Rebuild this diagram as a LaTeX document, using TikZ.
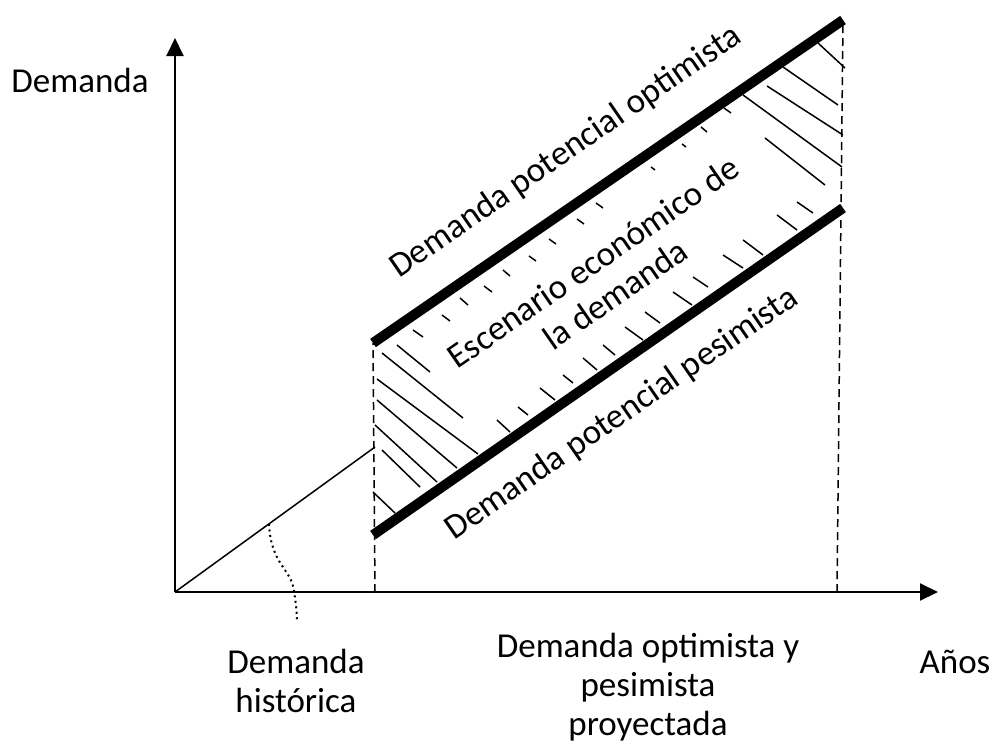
\documentclass[tikz,border=0pt]{standalone}
\usepackage{fontspec}
\setmainfont{Carlito}
\usetikzlibrary{arrows.meta}
\tikzset{
  axis/.style={line width=2pt, -{Triangle[length=18pt,width=17pt]}},
  bound/.style={line width=10pt},
  guide/.style={line width=1.5pt, dash pattern=on 8pt off 5pt},
  hatch/.style={line width=1.5pt},
  lbl/.style={font=\fontsize{35}{39}\selectfont, inner sep=0pt, align=center}
}
\begin{document}
\begin{tikzpicture}[x=1pt, y=-1pt]
\useasboundingbox (0,0) rectangle (1000,750);
\coordinate (O) at (175,592);
\coordinate (ytip) at (175,38);
\coordinate (xtip) at (938,592);
\coordinate (H) at (375,447);
\coordinate (U1) at (373,343);
\coordinate (U2) at (843,20);
\coordinate (L1) at (373,535);
\coordinate (L2) at (843,208);
\coordinate (A) at (375,592);
\coordinate (B) at (837,592);
\coordinate (S1) at (269,524);
\coordinate (S2) at (297,622);
\draw[axis] (O) -- (ytip);
\draw[axis] (O) -- (xtip);
\draw[line width=1.5pt] (O) -- (H);
\draw[guide] (A) -- (U1);
\draw[guide] (B) -- (U2);
\foreach \a/\b/\c/\d in {382/353/463/418, 397/345/430/372, 377/379/478/454, 377/400/457/468,
  375/425/437/482, 382/450/420/487, 373/492/395/513,
  413/330/423/337, 442/315/450/321, 460/298/468/305, 484/286/492/292, 503/270/510/276,
  529/256/536/261, 549/239/556/244, 577/219/584/224, 596/203/603/208, 651/167/655/170,
  682/144/686/147, 701/127/707/132, 724/108/731/113,
  497/420/510/432, 518/407/528/415, 540/388/555/400, 563/375/573/383, 583/358/597/370,
  603/345/615/355, 625/327/643/340, 645/312/660/323, 673/292/692/305, 693/277/708/287,
  723/255/743/268, 743/240/763/255, 777/215/797/230, 797/202/813/213,
  818/43/845/68, 783/67/838/105, 767/86/843/135, 743/95/842/167, 765/138/825/185}
  \draw[hatch] (\a,\b) -- (\c,\d);
\draw[bound] (U1) -- (U2);
\draw[bound] (L1) -- (L2);
\draw[line width=2pt, dash pattern=on 2pt off 3.5pt] (S1) .. controls (271,565) and (291,568) .. (294,591) .. controls (296,605) and (297,612) .. (S2);
\node[lbl, anchor=base] (ylab) at (80,92) {Demanda};
\node[lbl, anchor=base] (xlab) at (955,673) {Años};
\node[lbl, anchor=base] (hist) at (296,712) {Demanda\\histórica};
\node[lbl, anchor=base] (proj) at (648,735) {Demanda optimista y\\pesimista\\proyectada};
\node[lbl, rotate=34.6] (opt) at (566,152) {Demanda potencial optimista};
\node[lbl, rotate=34.6] (esc) at (604,278) {Escenario económico de\\la demanda};
\node[lbl, rotate=34.6] (pes) at (622,414) {Demanda potencial pesimista};
\end{tikzpicture}
\end{document}
